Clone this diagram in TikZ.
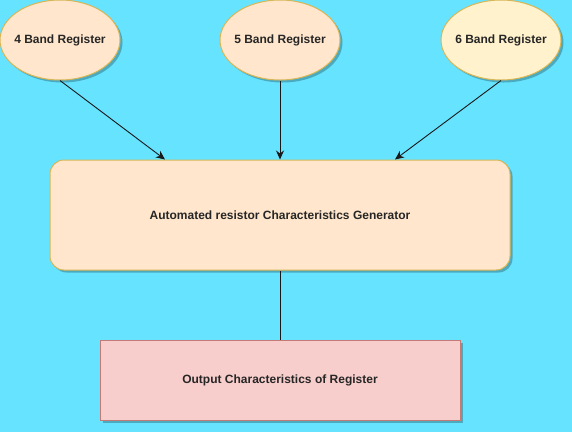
\documentclass[tikz,border=0pt]{standalone}
\usepackage{fontspec}
\setmainfont{Liberation Sans}
\usetikzlibrary{shapes.geometric,arrows.meta,shadows}
\definecolor{bgcyan}{RGB}{102,227,255}
\definecolor{peach}{HTML}{FFE6CC}
\definecolor{cream}{HTML}{FFF2CC}
\definecolor{goldline}{HTML}{D6B656}
\definecolor{pinkfill}{HTML}{F8CECC}
\definecolor{redline}{HTML}{C47A76}
\tikzset{
  shad/.style={drop shadow={shadow xshift=2.5pt,shadow yshift=-2.5pt,opacity=0.25,fill=black}},
  lbl/.style={font=\fontsize{12}{14}\selectfont\bfseries, text=black!85},
  bandnode/.style={ellipse, draw=goldline, line width=1pt, minimum width=120pt, minimum height=80pt, inner sep=0pt, shad},
  genbox/.style={rounded corners=14pt, draw=goldline, fill=peach, line width=1pt, minimum width=460pt, minimum height=110pt, inner sep=0pt, shad, lbl},
  outbox/.style={draw=redline, fill=pinkfill, line width=1pt, minimum width=360pt, minimum height=80pt, inner sep=0pt, shad, lbl},
  conn/.style={draw=black!90, line width=0.9pt},
  arr/.style={conn, -{Stealth[length=9pt,width=8pt]}}
}
\begin{document}
\begin{tikzpicture}[x=1pt,y=-1pt]
\useasboundingbox[fill=bgcyan] (0,0) rectangle (572,432);
\node[bandnode, fill=peach, label={[lbl]center:4 Band Register}] (e4) at (60,40) {};
\node[bandnode, fill=peach, label={[lbl]center:5 Band Register}] (e5) at (280,40) {};
\node[bandnode, fill=cream, label={[lbl]center:6 Band Register}] (e6) at (501,40) {};
\node[genbox] (gen) at (280,215) {Automated resistor Characteristics Generator};
\node[outbox] (out) at (280,380) {Output Characteristics of Register};
\draw[arr] (e4.south) -- ([xshift=-115pt]gen.north);
\draw[arr] (e5.south) -- (gen.north);
\draw[arr] (e6.south) -- ([xshift=115pt]gen.north);
\draw[conn] (gen.south) -- (out.north);
\end{tikzpicture}
\end{document}
